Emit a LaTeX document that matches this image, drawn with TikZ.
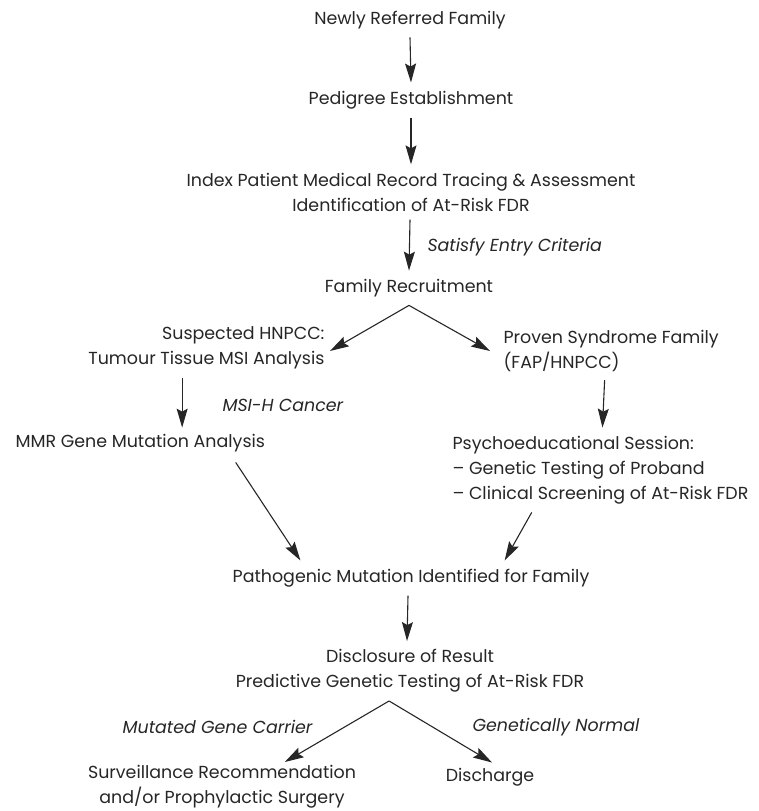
\documentclass[tikz,border=0pt]{standalone}
\usepackage{fontspec}
\setmainfont{Poppins}
\usetikzlibrary{arrows.meta, positioning, calc}
\definecolor{ctext}{HTML}{262626}
\tikzset{
  every picture/.style={line width=1.1pt},
  step box/.style={font=\fontsize{17.5}{25}\selectfont, text=ctext, inner sep=0pt, align=center},
  crit/.style={font=\fontsize{17.5}{25}\selectfont\itshape, text=ctext, inner sep=0pt},
  arrow/.style={-{Stealth[length=19pt, width=11pt, inset=3pt]}, draw=ctext, line width=1.1pt},
}

\begin{document}
\begin{tikzpicture}[x=1bp, y=-1bp]
  \useasboundingbox (0,0) rectangle (759,811);
  % main chain
  \node[step box] (newfam) at (410,20) {Newly Referred Family};
  \node[step box] (pedigree) at (411,100) {Pedigree Establishment};
  \node[step box] (index) at (411,192) {Index Patient Medical Record Tracing \& Assessment\\ Identification of At-Risk FDR};
  \node[step box] (recruit) at (409,288) {Family Recruitment};
  \node[step box, align=right, anchor=east] (suspect) at (325,348) {Suspected HNPCC:\\ Tumour Tissue MSI Analysis};
  \node[step box, align=left, anchor=west] (proven) at (503,351) {Proven Syndrome Family\\ (FAP/HNPCC)};
  \node[step box, anchor=west] (mmr) at (15,443) {MMR Gene Mutation Analysis};
  \node[step box, align=left, anchor=west] (psych) at (452,470) {Psychoeducational Session:\\ -- Genetic Testing of Proband\\ -- Clinical Screening of At-Risk FDR};
  \node[step box] (patho) at (411,578) {Pathogenic Mutation Identified for Family};
  \node[step box] (disclose) at (410,671) {Disclosure of Result\\ Predictive Genetic Testing of At-Risk FDR};
  \node[step box] (surveil) at (222,787) {Surveillance Recommendation\\ and/or Prophylactic Surgery};
  \node[step box] (discharge) at (490,777) {Discharge};
  % criteria
  \node[crit, anchor=west] (entry) at (427,247) {Satisfy Entry Criteria};
  \node[crit, anchor=west] (msih) at (222,405) {MSI-H Cancer};
  \node[crit, anchor=east] (carrier) at (313,727) {Mutated Gene Carrier};
  \node[crit, anchor=west] (normal) at (472,727) {Genetically Normal};
  % arrows
  \draw[arrow] ([yshift=-8pt]newfam.south) -- ([yshift=8pt]pedigree.north);
  \draw[arrow] ([yshift=-8pt]pedigree.south) -- ([yshift=8pt]index.north);
  \draw[arrow] ([xshift=-1pt, yshift=-8pt]index.south) -- ([yshift=8pt]recruit.north);
  \draw[arrow] ([yshift=-8pt]recruit.south) -- ([xshift=5pt, yshift=-3pt]suspect.east);
  \draw[arrow] ([yshift=-8pt]recruit.south) -- ([xshift=-13pt]proven.west);
  \draw[arrow] ([xshift=-40pt, yshift=-8pt]msih.west |- suspect.south) -- ([xshift=-40pt, yshift=6pt]msih.west |- mmr.north);
  \draw[arrow] ([xshift=102pt, yshift=-8pt]proven.south west) -- ([xshift=151pt, yshift=8pt]psych.north west);
  \draw[arrow] ([xshift=-30pt, yshift=-10pt]mmr.south east) -- ([xshift=-111pt, yshift=8pt]patho.north);
  \draw[arrow] ([xshift=80pt, yshift=-8pt]psych.south west) -- ([xshift=94pt, yshift=8pt]patho.north);
  \draw[arrow] ([xshift=-3pt, yshift=-8pt]patho.south) -- ([xshift=-3pt, yshift=8pt]disclose.north);
  \draw[arrow] ([xshift=-21pt, yshift=-8pt]disclose.south) -- ([xshift=63pt, yshift=3pt]surveil.north);
  \draw[arrow] ([xshift=-21pt, yshift=-8pt]disclose.south) -- ([xshift=2pt, yshift=5pt]discharge.north);
\end{tikzpicture}
\end{document}
